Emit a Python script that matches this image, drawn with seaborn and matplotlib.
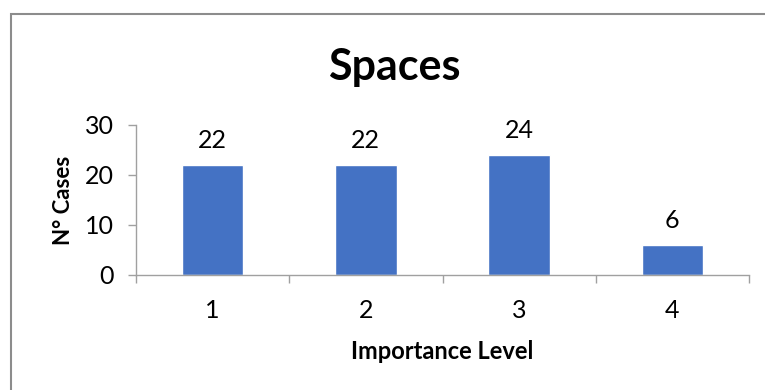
import matplotlib
matplotlib.use("Agg")
import matplotlib.pyplot as plt
import seaborn as sns
import pandas as pd
from matplotlib.patches import Rectangle
from matplotlib.ticker import FixedLocator

# Data
levels = ["1", "2", "3", "4"]
cases = [22, 22, 24, 6]

title = "Spaces"
x_label = "Importance Level"
y_label = "N° Cases"

sns.set_theme(style="white")
plt.rcParams["font.family"] = ["Lato", "DejaVu Sans"]
plt.rcParams["text.color"] = "black"
plt.rcParams["axes.labelcolor"] = "black"

df = pd.DataFrame({"level": levels, "cases": cases})

fig = plt.figure(figsize=(7.65, 3.9), dpi=100)
ax = fig.add_axes([136 / 765, 115 / 390, 613 / 765, 150 / 390])

sns.barplot(data=df, x="level", y="cases", color="#4472C4", saturation=1,
            width=0.4, ax=ax)

axis_grey = "#A0A0A0"
ax.set_ylim(0, 30)
ax.set_xlim(-0.5, len(levels) - 0.5)
ax.set_yticks([0, 10, 20, 30])

for side in ("top", "right"):
    ax.spines[side].set_visible(False)
for side in ("left", "bottom"):
    ax.spines[side].set_color(axis_grey)
    ax.spines[side].set_linewidth(1.0)

# Category separators on the x axis, value ticks on the y axis
ax.xaxis.set_minor_locator(FixedLocator([i - 0.5 for i in range(len(levels) + 1)]))
ax.tick_params(axis="x", which="major", length=0, pad=17, labelsize=18,
               labelcolor="black")
ax.tick_params(axis="x", which="minor", bottom=True, length=6, width=1,
               color=axis_grey)
ax.tick_params(axis="y", which="major", left=True, length=6, width=1,
               color=axis_grey, pad=10, labelsize=18, labelcolor="black")

ax.set_xlabel(x_label, fontsize=17, fontweight="bold", labelpad=13)
ax.set_ylabel(y_label, fontsize=16, fontweight="bold", labelpad=8)

# Value labels above the bars
for patch, value in zip(ax.patches, cases):
    ax.annotate(f"{value}", (patch.get_x() + patch.get_width() / 2, value),
                xytext=(0, 12), textcoords="offset points",
                ha="center", va="baseline", fontsize=18, color="black")

fig.text(394 / 765, 1 - 67 / 390, title, ha="center", va="center",
         fontsize=31, fontweight="bold")

# Chart area border
fig.patches.append(Rectangle((10.5 / 765, -0.1), 1.2, 1.1 - 13.5 / 390,
                             transform=fig.transFigure, fill=False,
                             edgecolor="#8C8C8C", linewidth=1.5))

fig.savefig("out.png", dpi=100)
